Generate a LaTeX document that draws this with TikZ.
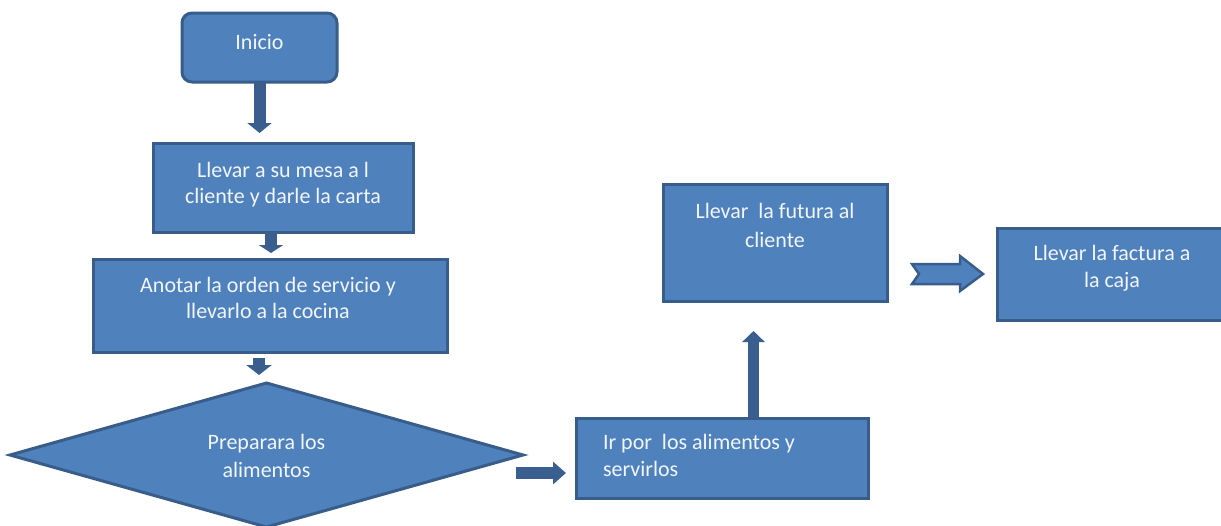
\documentclass[tikz,border=0pt]{standalone}
\usepackage{fontspec}
\setmainfont{Carlito}
\usetikzlibrary{shapes.geometric,arrows.meta,calc}
\definecolor{bfill}{HTML}{4F81BD}
\definecolor{bline}{HTML}{385D8A}
\definecolor{arr}{HTML}{3A5F8F}
\definecolor{tcol}{HTML}{F2F5FA}
\begin{document}
\begin{tikzpicture}[x=1pt,y=-1pt,
  box/.style={draw=bline,fill=bfill,line width=3pt,inner sep=0pt,outer sep=0pt},
  txt/.style={text=tcol,inner sep=0pt,outer sep=0pt,anchor=base},
  blk/.style={draw=arr,line width=12pt,-{Triangle[width=24pt,length=10pt]}},
  chev/.style={fill=bfill,draw=bline,line width=2.5pt,line join=miter}]
\useasboundingbox (0,0) rectangle (1221,525);
% boxes
\node[box,rounded corners=10pt,minimum width=155pt,minimum height=69pt] (ini) at (259.5,47.5) {};
\node[box,minimum width=260pt,minimum height=89pt] (mesa) at (283,187.5) {};
\node[box,minimum width=354pt,minimum height=93pt] (orden) at (270,305.5) {};
\node[box,diamond,minimum width=513pt,minimum height=144pt] (dia) at (266.5,455) {};
\node[box,minimum width=292pt,minimum height=80pt] (ir) at (722,458) {};
\node[box,minimum width=224pt,minimum height=117pt] (fut) at (775,242.5) {};
\node[box,minimum width=228pt,minimum height=92pt] (fac) at (1111,274) {};
% texts (base anchor = last line)
\node[txt,font=\fontsize{22}{26}\selectfont] (tini) at (259.5,49) {Inicio};
\node[txt,align=center,font=\fontsize{22}{26}\selectfont] (tmesa) at (283,203) {Llevar a su mesa a l\\cliente y darle la carta};
\node[txt,align=center,font=\fontsize{22}{26}\selectfont] (torden) at (268,318) {Anotar la orden de servicio y\\llevarlo a la cocina};
\node[txt,align=center,font=\fontsize{22}{28}\selectfont] (tdia) at (266.5,477) {Preparara los\\alimentos};
\node[txt,anchor=base west,align=left,font=\fontsize{22}{27}\selectfont] (tir) at (603,476) {Ir por\ \ los alimentos y\\servirlos};
\node[txt,align=center,font=\fontsize{22}{29}\selectfont] (tfut) at (775,247) {Llevar\ \ la futura al\\cliente};
\node[txt,align=center,font=\fontsize{22}{27}\selectfont] (tfac) at (1112,287) {Llevar la factura a\\la caja};
% connectors
\draw[blk,shorten >=10pt] (ini.south) -- (mesa.north -| ini.south);
\draw[blk,-{Triangle[width=24pt,length=8pt]},shorten >=6pt] ([xshift=-12pt]mesa.south) -- ([xshift=-12pt]mesa.south |- orden.north);
\draw[blk,-{Triangle[width=25pt,length=10pt]},shorten <=6pt,shorten >=8pt] ([xshift=-11pt]orden.south) -- ([xshift=-11pt]orden.south |- dia.north);
\coordinate (a4s) at ([yshift=-18pt]dia.east);
\draw[blk,-{Triangle[width=22pt,length=13pt]},shorten <=-7pt,shorten >=10pt] (a4s) -- (ir.west |- a4s);
\draw[blk,line width=11pt,-{Triangle[width=22pt,length=11pt]},shorten >=30pt] ([xshift=31.5pt]ir.north) -- ([xshift=31.5pt]ir.north |- fut.south);
\coordinate (a6s) at ($(fut.east |- fac.west)+(25,0)$);
\coordinate (a6e) at ($(fac.west)+(-14,0)$);
\draw[chev] ($(a6s)+(0,-10)$) -- ($(a6e)+(-23,-10)$) -- ($(a6e)+(-23,-18)$) -- (a6e) -- ($(a6e)+(-23,17)$) -- ($(a6e)+(-23,10)$) -- ($(a6s)+(0,10)$) -- ($(a6s)+(7,0)$) -- cycle;
\end{tikzpicture}
\end{document}
